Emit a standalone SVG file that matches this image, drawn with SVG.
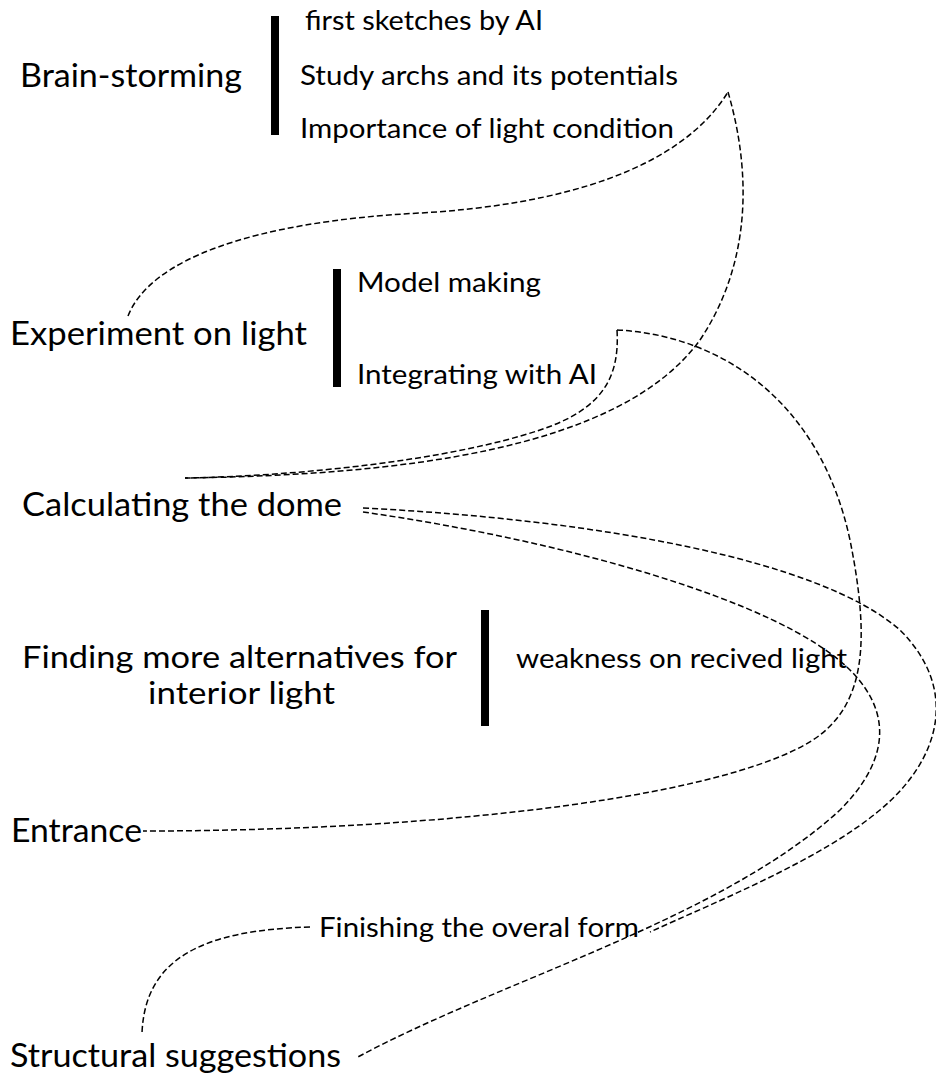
<svg xmlns="http://www.w3.org/2000/svg" width="936" height="1076" viewBox="0 0 936 1076">
<style>
.big{font-family:Lato,"Open Sans","Liberation Sans",sans-serif;font-size:33px;fill:#000}
.mid{font-family:Lato,"Open Sans","Liberation Sans",sans-serif;font-size:31px;fill:#000}
.sm{font-family:Lato,"Open Sans","Liberation Sans",sans-serif;font-size:26px;fill:#000}
.bar{fill:#000}
.c{fill:none;stroke:#000;stroke-width:1.5;stroke-dasharray:6 3}
</style>
<rect width="936" height="1076" fill="#fff"/>
<g id="connectors">
<path class="c" d="M128,316 C150,260 250,222 420,213 C560,205 680,170 728,92"/>
<path class="c" d="M728,92 C745,150 760,250 700,340 C620,450 400,475 185,478"/>
<path class="c" d="M617,330 C620,380 600,410 540,430 C450,460 300,476 185,478"/>
<path class="c" d="M617,330 C720,335 820,400 850,540 C870,640 865,700 820,735 C740,795 450,831 143,831"/>
<path class="c" d="M363,508 C600,520 820,560 900,630 C960,690 940,760 880,810 C820,860 720,900 650,932"/>
<path class="c" d="M363,512 C560,540 780,600 850,670 C900,720 880,770 840,810 C720,920 500,980 356,1058"/>
<path class="c" d="M310,927 C200,930 145,960 142,1033"/>
</g>
<g id="brainstorming">
<text class="big" x="20" y="87" textLength="222" lengthAdjust="spacingAndGlyphs">Brain-storming</text>
<rect class="bar" x="271" y="16" width="8" height="119"/>
<text class="sm" x="305" y="30" textLength="238" lengthAdjust="spacingAndGlyphs">first sketches by AI</text>
<text class="sm" x="300" y="85" textLength="378" lengthAdjust="spacingAndGlyphs">Study archs and its potentials</text>
<text class="sm" x="300" y="138" textLength="374" lengthAdjust="spacingAndGlyphs">Importance of light condition</text>
</g>
<g id="experiment">
<text class="big" x="10" y="345" textLength="297" lengthAdjust="spacingAndGlyphs">Experiment on light</text>
<rect class="bar" x="333" y="269" width="8" height="118"/>
<text class="sm" x="357" y="292" textLength="184" lengthAdjust="spacingAndGlyphs">Model making</text>
<text class="sm" x="357" y="384" textLength="240" lengthAdjust="spacingAndGlyphs">Integrating with AI</text>
</g>
<g id="calculating">
<text class="big" x="22" y="516" textLength="320" lengthAdjust="spacingAndGlyphs">Calculating the dome</text>
</g>
<g id="finding">
<text class="mid" x="22" y="668" textLength="435" lengthAdjust="spacingAndGlyphs">Finding more alternatives for</text>
<text class="mid" x="148" y="704" textLength="187" lengthAdjust="spacingAndGlyphs">interior light</text>
<rect class="bar" x="481" y="610" width="8" height="116"/>
<text class="sm" x="516" y="668" textLength="331" lengthAdjust="spacingAndGlyphs">weakness on recived light</text>
</g>
<g id="entrance">
<text class="big" x="11" y="842" textLength="131" lengthAdjust="spacingAndGlyphs">Entrance</text>
</g>
<g id="finishing">
<text class="sm" x="319" y="937" textLength="320" lengthAdjust="spacingAndGlyphs">Finishing the overal form</text>
</g>
<g id="structural">
<text class="big" x="10" y="1067" textLength="331" lengthAdjust="spacingAndGlyphs">Structural suggestions</text>
</g>
</svg>
